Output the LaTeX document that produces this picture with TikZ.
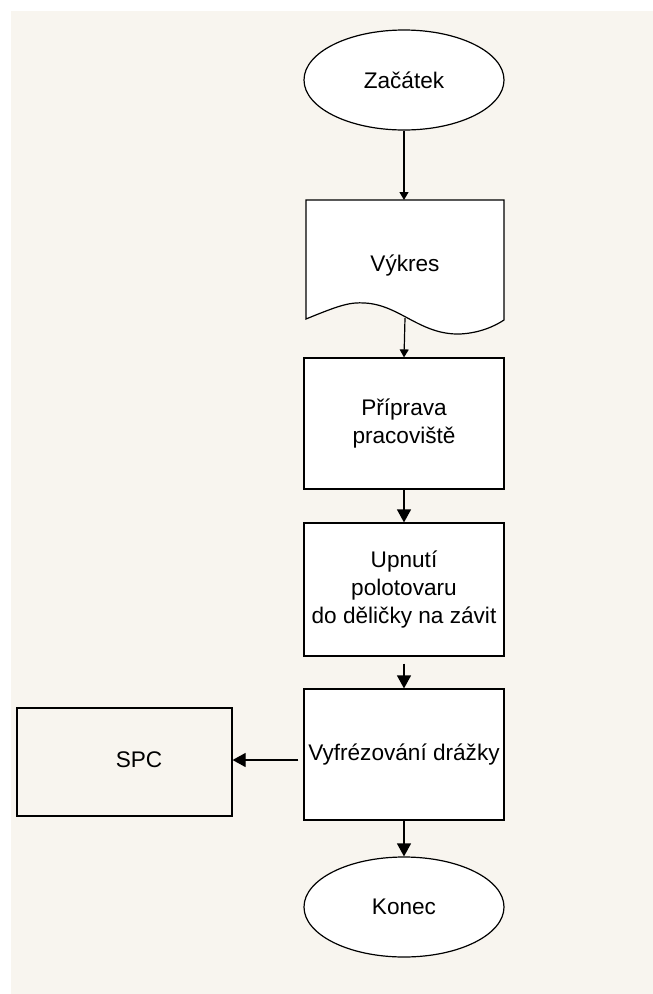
\documentclass[tikz,border=0pt]{standalone}
\usepackage{fontspec}
\setmainfont{Liberation Sans}
\usetikzlibrary{shapes.geometric,arrows.meta}
\definecolor{paper}{HTML}{F8F5EF}
\tikzset{
  label font/.style={font=\fontsize{22.6}{28}\selectfont},
  base/.style={draw=black, line width=1.2pt, align=center, text=black, label font},
  terminal/.style={base, ellipse, fill=white, minimum width=200pt, minimum height=100pt, inner sep=0pt},
  process/.style={base, rectangle, fill=white, minimum width=200pt, inner sep=0pt},
  flow/.style={line width=1.2pt, -{Triangle[width=14pt,length=13pt]}},
  flowthin/.style={line width=1.2pt, -{Triangle[width=9pt,length=8pt]}},
}
\begin{document}
\begin{tikzpicture}[x=1pt,y=-1pt]
  % page and paper background
  \fill[white] (0,0) rectangle (653,994);
  \fill[paper] (11,11) rectangle (653,994);
  \useasboundingbox (0,0) rectangle (653,994);

  % start
  \node[terminal] (start) at (404,80) {Začátek};

  % document symbol with wavy lower edge
  \draw[line width=1.2pt, fill=white]
    (306,319) -- (306,200) -- (504,200) -- (504,320)
    .. controls (495,326) and (480,333) .. (460,334)
    .. controls (420,335) and (400,305) .. (365,303)
    .. controls (350,302) and (340,305) .. (306,319) -- cycle;
  \node[label font] (doc) at (405,266) {Výkres};
  \coordinate (doctop) at (404,200);
  \coordinate (docbot) at (405,318);

  % process steps
  \node[process, minimum height=131pt] (prep) at (404,423.5) {Příprava\\pracoviště};
  \node[process, minimum height=133pt] (clamp) at (404,589.5) {Upnutí\\polotovaru\\do děličky na závit};
  \node[process, minimum height=131pt] (mill) at (404,754.5) {Vyfrézování drážky};

  % side box
  \node[base, rectangle, minimum width=215pt, minimum height=108pt, inner sep=0pt] (spc) at (124.5,762) {};
  \node[label font] (spclabel) at (139,760) {SPC};

  % end
  \node[terminal] (stop) at (404,907) {Konec};

  % connectors
  \draw[flowthin] (start) -- (doctop);
  \draw[flowthin] (docbot) -- (prep.north);
  \draw[flow] (prep) -- (clamp);
  \draw[flow, shorten <=7pt] (clamp) -- (mill);
  \draw[flow, shorten <=5pt] (mill.west |- 0,760) -- (spc.east |- 0,760);
  \draw[flow] (mill) -- (stop);
\end{tikzpicture}
\end{document}
